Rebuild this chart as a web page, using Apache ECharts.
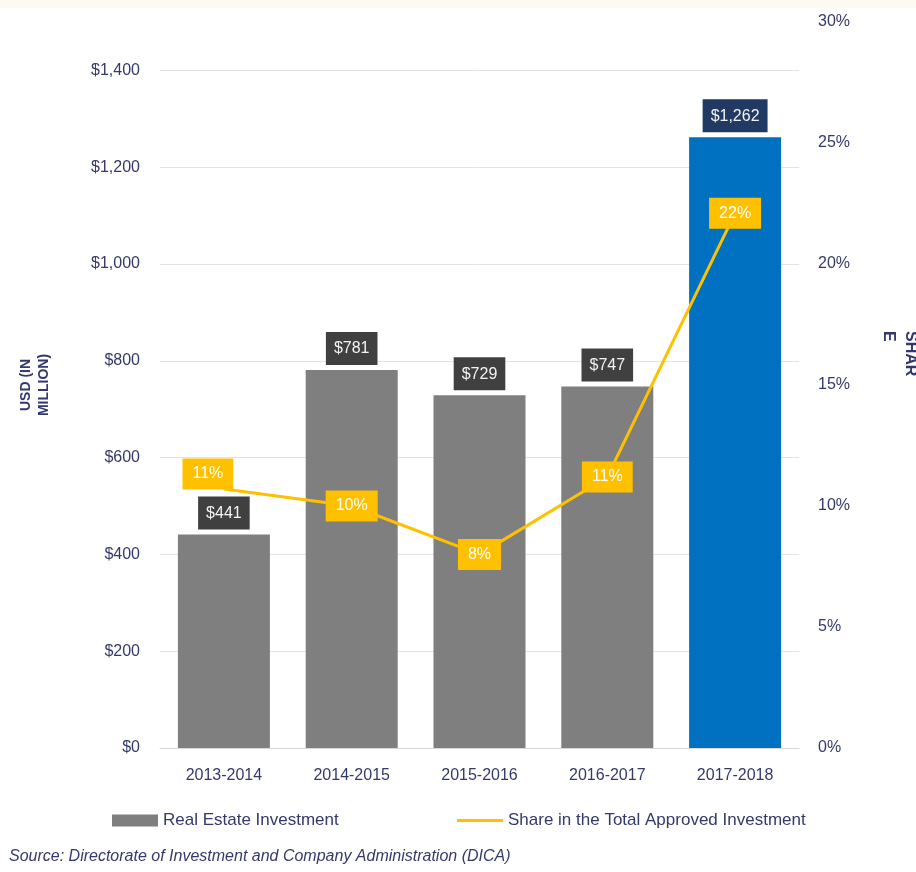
<!DOCTYPE html>
<html>
<head>
<meta charset="utf-8">
<script src="https://cdn.jsdelivr.net/npm/echarts@6/dist/echarts.min.js"></script>
<style>
  html, body { margin: 0; padding: 0; background: #ffffff; }
  #chart { width: 916px; height: 872px; }
</style>
</head>
<body>
<div id="chart"></div>
<script>
// ---- data ----
const categories = ['2013-2014', '2014-2015', '2015-2016', '2016-2017', '2017-2018'];
const investmentValues = [441, 781, 729, 747, 1262];        // USD million
const shareValues = [10.7, 10.0, 8.0, 11.2, 22.1];          // percent
const shareLabels = ['11%', '10%', '8%', '11%', '22%'];
const leftTicks = [0, 200, 400, 600, 800, 1000, 1200, 1400];
const rightTicks = [0, 5, 10, 15, 20, 25, 30];
const barName = 'Real Estate Investment';
const lineName = 'Share in the Total Approved Investment';
const sourceText = 'Source: Directorate of Investment and Company Administration (DICA)';

// ---- styling ----
const FONT = "'Liberation Sans', Arial, sans-serif";
const NAVY = '#34396c';
const GRAY_BAR = '#7f7f7f';
const BLUE_BAR = '#0070c0';
const YELLOW = '#ffc000';
const highlightIndex = 4;

const chart = echarts.init(document.getElementById('chart'));

const barData = investmentValues.map((v, i) => ({
  value: v,
  itemStyle: { color: i === highlightIndex ? BLUE_BAR : GRAY_BAR },
  label: { backgroundColor: i === highlightIndex ? '#203a63' : '#404040' }
}));

const lineData = shareValues.map((v, i) => {
  const d = { value: v };
  if (i === 0) d.label = { offset: [-16, -15] };
  return d;
});

const fmtMoney = v => '$' + Number(v).toLocaleString('en-US');

const option = {
  backgroundColor: '#ffffff',
  animation: false,
  textStyle: { fontFamily: FONT },
  grid: { left: 160, right: 117, top: 22, bottom: 124, containLabel: false },
  legend: [
    {
      data: [{ name: barName, icon: 'rect' }],
      left: 112, top: 812, padding: 0,
      itemWidth: 46, itemHeight: 12, itemGap: 5,
      textStyle: { color: NAVY, fontSize: 17, fontFamily: FONT },
      selectedMode: false
    },
    {
      data: [{ name: lineName, icon: 'rect' }],
      left: 457, top: 812, padding: 0,
      itemWidth: 46, itemHeight: 3, itemGap: 5,
      textStyle: { color: NAVY, fontSize: 17, fontFamily: FONT },
      selectedMode: false
    }
  ],
  xAxis: {
    type: 'category',
    data: categories,
    axisLine: { show: true, lineStyle: { color: '#d9d9d9', width: 1 } },
    axisTick: { show: false },
    axisLabel: { color: NAVY, fontSize: 16, margin: 20, fontFamily: FONT }
  },
  yAxis: [
    {
      type: 'value',
      min: 0, max: 1500, interval: 200,
      name: 'USD (IN\nMILLION)',
      nameLocation: 'middle',
      nameRotate: 90,
      nameGap: 107,
      nameTextStyle: { color: NAVY, fontSize: 14, fontWeight: 'bold', lineHeight: 18, fontFamily: FONT },
      axisLine: { show: false },
      axisTick: { show: false },
      axisLabel: {
        color: NAVY, fontSize: 16, margin: 20, fontFamily: FONT,
        showMaxLabel: false,
        formatter: v => (leftTicks.indexOf(v) >= 0 ? fmtMoney(v) : '')
      },
      splitLine: { show: true, showMaxLine: false, lineStyle: { color: '#e3e3e3', width: 1 } }
    },
    {
      type: 'value',
      min: 0, max: 30, interval: 5,
      position: 'right',
      axisLine: { show: false },
      axisTick: { show: false },
      splitLine: { show: false },
      axisLabel: {
        color: NAVY, fontSize: 16, margin: 19, fontFamily: FONT,
        formatter: v => (rightTicks.indexOf(v) >= 0 ? v + '%' : '')
      }
    }
  ],
  series: [
    {
      name: barName,
      type: 'bar',
      yAxisIndex: 0,
      barWidth: 92,
      data: barData,
      itemStyle: { color: GRAY_BAR },
      label: {
        show: true,
        position: 'top',
        distance: 5,
        formatter: p => fmtMoney(p.value),
        color: '#f2f2f2',
        fontSize: 16,
        fontFamily: FONT,
        padding: [9, 8, 8, 8],
        backgroundColor: '#404040'
      }
    },
    {
      name: lineName,
      type: 'line',
      yAxisIndex: 1,
      data: lineData,
      symbol: 'circle',
      symbolSize: 2,
      showSymbol: true,
      itemStyle: { color: YELLOW },
      lineStyle: { color: YELLOW, width: 3 },
      label: {
        show: true,
        position: 'inside',
        formatter: p => shareLabels[p.dataIndex],
        color: '#ffffff',
        fontSize: 16,
        fontFamily: FONT,
        padding: [8, 10, 7, 10],
        backgroundColor: YELLOW
      },
      z: 5
    }
  ],
  graphic: [
    {
      type: 'rect',
      left: 0, top: 0,
      shape: { x: 0, y: 0, width: 916, height: 8 },
      style: { fill: '#fcfaf1' },
      silent: true
    },
    {
      type: 'text',
      x: 921, y: 331,
      rotation: -Math.PI / 2,
      style: {
        text: 'SHAR\nE',
        fill: NAVY,
        font: 'bold 16px ' + FONT,
        lineHeight: 22,
        textAlign: 'left',
        textVerticalAlign: 'top'
      },
      silent: true
    },
    {
      type: 'text',
      left: 9, top: 849,
      style: {
        text: sourceText,
        fill: NAVY,
        font: 'italic 16px ' + FONT
      },
      silent: true
    }
  ]
};

chart.setOption(option);
</script>
</body>
</html>
